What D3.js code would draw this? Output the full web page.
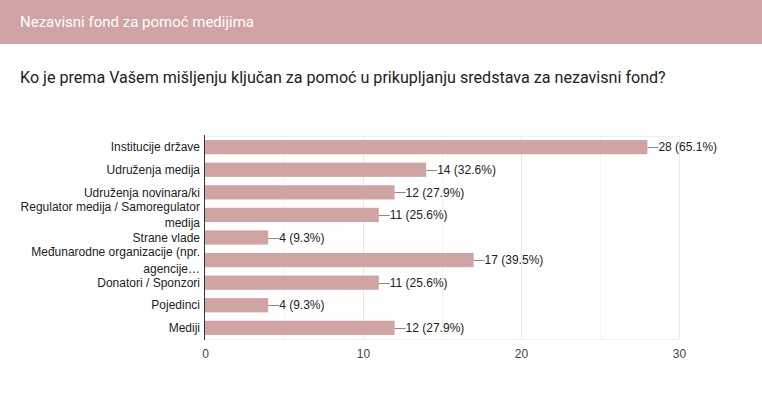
<!DOCTYPE html>
<html><head><meta charset="utf-8">
<script src="https://cdn.jsdelivr.net/npm/d3@7"></script>
<style>body{margin:0;background:#fff;}svg{display:block;}</style>
</head><body>
<svg id="c" width="762" height="398"></svg>
<script>
const headerTitle = "Nezavisni fond za pomoć medijima";
const question = "Ko je prema Vašem mišljenju ključan za pomoć u prikupljanju sredstava za nezavisni fond?";
const categories = ["Institucije države","Udruženja medija","Udruženja novinara/ki","Regulator medija / Samoregulator medija","Strane vlade","Međunarodne organizacije (npr. agencije…","Donatori / Sponzori","Pojedinci","Mediji"];
const counts = [28,14,12,11,4,17,11,4,12];
const percents = ["65.1%","32.6%","27.9%","25.6%","9.3%","39.5%","25.6%","9.3%","27.9%"];
const majorTicks = [0,10,20,30];
const minorTicks = [5,15,25];

const svg = d3.select("#c");
const W = 762, H = 398;
const barColor = "#d1a4a4";

svg.append("rect").attr("x",0).attr("y",0).attr("width",W).attr("height",44).attr("fill","#d1a3a4");
svg.append("text").attr("x",20).attr("y",27).attr("fill","#fff")
  .style("font-family","Roboto, 'Open Sans', sans-serif").style("font-size","15px").text(headerTitle);
const q = svg.append("text").attr("x",20).attr("y",83).attr("fill","#202124")
  .style("font-family","Roboto, 'Open Sans', sans-serif").style("font-size","16px").text(question);
// fit width to reference (~646px)
const qw = q.node().getComputedTextLength();
q.style("font-size", (16*646/qw).toFixed(2)+"px");

const x = d3.scaleLinear().domain([0,30]).range([205,679]);
const y = d3.scaleBand().domain(categories).range([136,339]).paddingInner(0.37).paddingOuter(0.18);

const g = svg.append("g");
// minor grid
g.selectAll("line.minor").data(minorTicks).join("line")
  .attr("x1",d=>x(d)).attr("x2",d=>x(d)).attr("y1",136).attr("y2",339)
  .attr("stroke","#f4f4f4").attr("stroke-width",1).attr("shape-rendering","crispEdges");
// major grid
g.selectAll("line.major").data(majorTicks.slice(1)).join("line")
  .attr("x1",d=>x(d)).attr("x2",d=>x(d)).attr("y1",136).attr("y2",339)
  .attr("stroke","#e8e8e8").attr("stroke-width",1).attr("shape-rendering","crispEdges");
// top border
g.append("line").attr("x1",205).attr("x2",679).attr("y1",136.5).attr("y2",136.5)
  .attr("stroke","#efefef");
g.append("line").attr("x1",205).attr("x2",679).attr("y1",339.5).attr("y2",339.5)
  .attr("stroke","#efefef");

// bars
g.selectAll("rect.bar").data(categories).join("rect")
  .attr("x",x(0)).attr("y",d=>y(d)).attr("width",(d,i)=>x(counts[i])-x(0))
  .attr("height",y.bandwidth()).attr("fill",barColor);

// axis line
g.append("line").attr("x1",204.5).attr("x2",204.5).attr("y1",135).attr("y2",340)
  .attr("stroke","#333").attr("stroke-width",1);

// x axis tick labels
const xAxis = d3.axisBottom(x).tickValues(majorTicks).tickSize(0).tickPadding(0);
const ax = svg.append("g").attr("transform","translate(0,349)").call(xAxis);
ax.select(".domain").remove();
ax.selectAll("text").attr("fill","#444").style("font-family","Arial, 'Liberation Sans', sans-serif")
  .style("font-size","12px").attr("dy","0.71em");

// y labels with wrapping
const yAxis = d3.axisLeft(y).tickSize(0).tickPadding(5);
const ay = svg.append("g").attr("transform","translate(205,0)").call(yAxis);
ay.select(".domain").remove();
ay.selectAll("text").attr("fill","#222").style("font-family","Arial, 'Liberation Sans', sans-serif")
  .style("font-size","12px").each(function(d){
    const t = d3.select(this);
    const words = d.split(" ");
    t.text(null);
    const maxW = 182;
    let lines = [], cur = [];
    const tmp = t.append("tspan");
    words.forEach(w=>{
      cur.push(w); tmp.text(cur.join(" "));
      if (tmp.node().getComputedTextLength() > maxW && cur.length>1){
        cur.pop(); lines.push(cur.join(" ")); cur=[w];
      }
    });
    lines.push(cur.join(" "));
    tmp.remove();
    const lh = 16.5;
    const off = -(lines.length-1)*lh/2;
    t.attr("dy",null);
    lines.forEach((ln,i)=>{
      t.append("tspan").attr("x",-5).attr("y",0).attr("dy",(off+i*lh+4.2)+"px").text(ln);
    });
  });

// value labels
const vl = svg.append("g");
categories.forEach((c,i)=>{
  const cy = y(c)+y.bandwidth()/2;
  const x0 = x(counts[i]);
  vl.append("line").attr("x1",x0).attr("x2",x0+11).attr("y1",Math.round(cy)+0.5).attr("y2",Math.round(cy)+0.5)
    .attr("stroke","#888").attr("stroke-width",1);
  vl.append("text").attr("x",x0+11).attr("y",cy).attr("dy","0.35em").attr("fill","#222")
    .style("font-family","Arial, 'Liberation Sans', sans-serif").style("font-size","12px")
    .text(counts[i]+" ("+percents[i]+")");
});
</script>
</body></html>
